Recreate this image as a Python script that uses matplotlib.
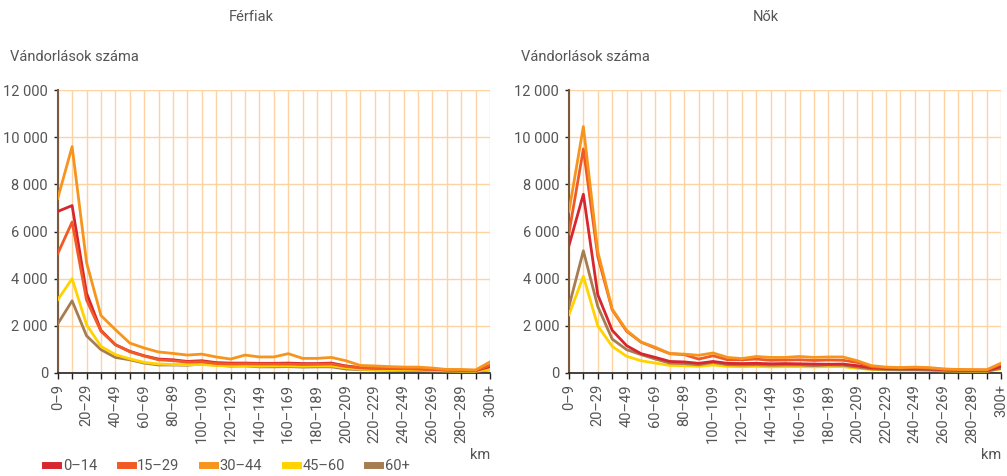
import matplotlib
matplotlib.use('Agg')
import matplotlib.pyplot as plt
from matplotlib.ticker import FuncFormatter

plt.rcParams['font.family'] = ['Roboto', 'DejaVu Sans']

# distance bands (km)
cats = [f"{i*10}\u2013{i*10+9}" for i in range(30)] + ["300+"]

# Férfiak (men), migrations per age group
f_0_14 = [6850, 7100, 3390, 1810, 1200, 920, 730, 590, 560, 490, 520, 440, 420, 420, 410, 410,
          420, 400, 400, 420, 300, 230, 210, 200, 190, 180, 160, 130, 110, 100, 270]
f_15_29 = [5060, 6400, 3100, 1770, 1200, 900, 720, 560, 520, 460, 480, 400, 380, 390, 380, 380,
           380, 360, 370, 380, 280, 220, 200, 190, 180, 170, 150, 120, 110, 100, 330]
f_30_44 = [7400, 9600, 4690, 2440, 1840, 1270, 1060, 890, 830, 760, 800, 680, 590, 760, 680, 680,
           820, 620, 620, 660, 520, 320, 300, 270, 250, 250, 210, 150, 150, 130, 470]
f_45_60 = [3100, 4000, 2050, 1130, 780, 600, 450, 380, 360, 350, 360, 320, 300, 300, 290, 300,
           300, 290, 300, 300, 220, 160, 150, 140, 130, 120, 110, 90, 80, 80, 150]
f_60 = [2080, 3060, 1580, 990, 660, 560, 420, 340, 340, 330, 380, 330, 290, 300, 260, 260,
        270, 250, 260, 260, 170, 140, 130, 120, 110, 100, 90, 80, 70, 70, 130]

# Nők (women)
n_0_14 = [5400, 7580, 3320, 1810, 1160, 820, 660, 490, 470, 410, 490, 410, 400, 410, 390, 400,
          390, 380, 370, 380, 310, 220, 190, 180, 180, 170, 140, 120, 100, 100, 280]
n_15_29 = [5930, 9500, 4940, 2680, 1770, 1310, 1060, 820, 780, 590, 730, 560, 560, 590, 540, 550,
           560, 530, 550, 540, 450, 260, 230, 210, 220, 200, 160, 140, 130, 120, 380]
n_30_44 = [6850, 10450, 5150, 2710, 1810, 1310, 1090, 820, 800, 750, 850, 660, 610, 700, 660, 660,
           700, 660, 680, 680, 520, 310, 250, 230, 250, 230, 170, 150, 140, 140, 420]
n_45_60 = [2470, 4100, 2000, 1130, 710, 520, 420, 320, 310, 280, 340, 280, 270, 280, 260, 270,
           270, 260, 270, 270, 200, 150, 130, 120, 120, 110, 90, 80, 70, 70, 180]
n_60 = [2820, 5180, 2820, 1440, 990, 780, 590, 420, 400, 350, 450, 350, 340, 350, 330, 340,
        340, 310, 340, 330, 250, 170, 150, 140, 140, 130, 110, 90, 80, 80, 200]

groups = ["0\u201314", "15\u201329", "30\u201344", "45\u201360", "60+"]
colors = ["#d7262f", "#f15a24", "#f7941d", "#ffd200", "#a67c52"]

grid_c = "#fdd3a3"
text_c = "#555555"

fig = plt.figure(figsize=(10.07, 4.76), dpi=100)
ax1 = fig.add_axes([0.0573, 0.2164, 0.4293, 0.5945])
ax2 = fig.add_axes([0.5650, 0.2164, 0.4293, 0.5945])

fmt = FuncFormatter(lambda v, p: f"{int(v):,}".replace(",", " "))
x = list(range(len(cats)))

for ax, data, title, tx in [(ax1, [f_0_14, f_15_29, f_30_44, f_45_60, f_60], "Férfiak", 0.250),
                            (ax2, [n_0_14, n_15_29, n_30_44, n_45_60, n_60], "Nők", 0.760)]:
    order = [4, 3, 0, 1, 2] if title == "Férfiak" else [3, 4, 0, 1, 2]
    for i in order:
        ax.plot(x, data[i], color=colors[i], lw=2.0, label=groups[i], zorder=3,
                solid_joinstyle='round')
    ax.set_xlim(0, 30)
    ax.set_ylim(0, 12000)
    ax.set_yticks(range(0, 12001, 2000))
    ax.yaxis.set_major_formatter(fmt)
    ax.set_xticks(x)
    ax.set_xticklabels([c if i % 2 == 0 else "" for i, c in enumerate(cats)], rotation=90)
    ax.grid(True, color=grid_c, lw=1.0, zorder=0)
    ax.set_axisbelow(True)
    for s in ['top', 'right']:
        ax.spines[s].set_visible(False)
    ax.spines['left'].set_color("#7a5a3c")
    ax.spines['left'].set_linewidth(1.5)
    ax.spines['bottom'].set_color("#222222")
    ax.spines['bottom'].set_linewidth(1.2)
    ax.tick_params(axis='x', length=4, width=1, color="#222222", labelsize=10.5,
                   labelcolor=text_c, pad=4)
    ax.tick_params(axis='y', length=3, width=1, color="#222222", labelsize=10.5,
                   labelcolor=text_c, pad=4)
    fig.text(tx, 1 - 17 / 476, title, fontsize=10.5, color=text_c, ha='center', va='center')
    ax.text(-0.11, 1.117, "Vándorlások száma", transform=ax.transAxes, fontsize=10.5,
            color=text_c, ha='left', va='center')
    ax.text(1.0, -0.29, "km", transform=ax.transAxes, fontsize=10.5, color=text_c,
            ha='right', va='center')

leg_h = [plt.Line2D([], [], color=c, lw=5) for c in colors]
fig.legend(leg_h, groups, loc='center left', bbox_to_anchor=(0.045, 1 - 466 / 476), ncol=5,
           frameon=False, fontsize=10.5, handlelength=0.9, handletextpad=0.3,
           columnspacing=1.55, labelcolor=text_c, borderaxespad=0, borderpad=0)

fig.savefig("out.png", dpi=100)
